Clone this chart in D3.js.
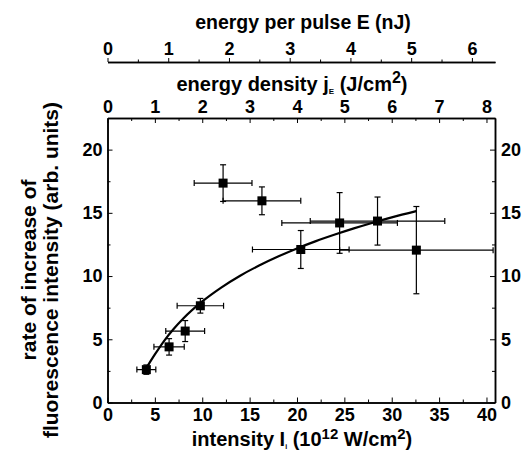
<!DOCTYPE html>
<html>
<head>
<meta charset="utf-8">
<script src="https://cdn.jsdelivr.net/npm/d3@7"></script>
<style>
  body { margin: 0; background: #fff; }
  text { font-family: "Liberation Sans", Arial, sans-serif; font-weight: bold; fill: #000; }
  .axis path, .axis line { stroke: #000; }
</style>
</head>
<body>
<div id="chart"></div>
<script>
// measured points (intensity in 10^12 W/cm^2, rate in arb. units)
const intensity = [4.1, 6.5, 8.2, 9.8, 12.2, 16.3, 20.4, 24.5, 28.5, 32.6];
const rate = [2.6, 4.4, 5.65, 7.65, 17.35, 15.95, 12.1, 14.2, 14.35, 12.05];
const xErr = [1.0, 1.6, 2.05, 2.45, 3.05, 4.1, 5.1, 6.1, 7.1, 8.1];
const yErr = [0.37, 0.65, 0.83, 0.58, 1.45, 1.1, 1.5, 2.4, 1.9, 3.45];

// fitted curve
const fitX = [4.2, 5, 6, 7, 8, 10, 12, 14, 16, 18, 20, 22, 24, 26, 28, 30, 32.6];
const fitY = [2.85, 3.8, 4.9, 5.83, 6.64, 7.99, 9.09, 10.03, 10.83, 11.54, 12.18, 12.76, 13.28, 13.77, 14.22, 14.64, 15.14];

const xTicks = [0, 5, 10, 15, 20, 25, 30, 35, 40];
const yTicks = [0, 5, 10, 15, 20];
const densityTicks = [0, 1, 2, 3, 4, 5, 6, 7, 8];
const energyTicks = [0, 1, 2, 3, 4, 5, 6];

const W = 525, H = 456;
const margin = { left: 107.5, top: 118, right: 30, bottom: 53.5 };
const width = W - margin.left - margin.right;
const height = H - margin.top - margin.bottom;

const xMax = 40.9;
const x = d3.scaleLinear().domain([0, xMax]).range([0, width]);
const y = d3.scaleLinear().domain([0, 22.5]).range([height, 0]);
const xDensity = d3.scaleLinear().domain([0, xMax / 5]).range([0, width]);
const xEnergy = d3.scaleLinear().domain([0, xMax / 5 * 0.78]).range([0, width]);

const svg = d3.select("#chart")
  .append("svg")
  .attr("width", W)
  .attr("height", H);

const g = svg.append("g")
  .attr("transform", `translate(${margin.left},${margin.top})`);

function styleAxis(sel, size) {
  sel.attr("class", "axis");
  sel.select(".domain").attr("stroke-width", 1.5);
  sel.selectAll(".tick line").attr("stroke-width", 1);
  sel.selectAll("text").style("font-size", size + "px").attr("font-family", null);
}

const minorX = d3.range(2.5, 40, 5);
const minorY = d3.range(2.5, 22, 5);
const fmt = d3.format("d");

// frame axes, ticks pointing inward
g.append("g")
  .attr("transform", `translate(0,${height})`)
  .call(d3.axisBottom(x).tickValues(minorX).tickSize(-3).tickSizeOuter(0).tickFormat(""))
  .call(s => styleAxis(s, 18));
g.append("g")
  .attr("transform", `translate(0,${height})`)
  .call(d3.axisBottom(x).tickValues(xTicks).tickSize(-5).tickSizeOuter(0).tickPadding(6))
  .call(s => styleAxis(s, 18));

g.append("g")
  .call(d3.axisLeft(y).tickValues(minorY).tickSize(-3).tickSizeOuter(0).tickFormat(""))
  .call(s => styleAxis(s, 18));
g.append("g")
  .call(d3.axisLeft(y).tickValues(yTicks).tickSize(-5).tickSizeOuter(0).tickPadding(5))
  .call(s => styleAxis(s, 18));

g.append("g")
  .attr("transform", `translate(${width},0)`)
  .call(d3.axisRight(y).tickValues(minorY).tickSize(-3).tickSizeOuter(0).tickFormat(""))
  .call(s => styleAxis(s, 18));
g.append("g")
  .attr("transform", `translate(${width},0)`)
  .call(d3.axisRight(y).tickValues(yTicks).tickSize(-5).tickSizeOuter(0).tickPadding(6))
  .call(s => styleAxis(s, 18));

// top frame: energy density
g.append("g")
  .call(d3.axisTop(xDensity).tickValues(d3.range(0.5, 8.2, 1)).tickSize(-3).tickSizeOuter(0).tickFormat(""))
  .call(s => styleAxis(s, 18));
g.append("g")
  .call(d3.axisTop(xDensity).tickValues(densityTicks).tickSize(-5).tickSizeOuter(0).tickPadding(5).tickFormat(fmt))
  .call(s => styleAxis(s, 18));

// detached axis: energy per pulse
const eY = 62 - margin.top;
g.append("g")
  .attr("transform", `translate(0,${eY})`)
  .call(d3.axisTop(xEnergy).tickValues(d3.range(0.5, 6.4, 1)).tickSize(2.5).tickSizeOuter(0).tickFormat(""))
  .call(s => styleAxis(s, 18));
g.append("g")
  .attr("transform", `translate(0,${eY})`)
  .call(d3.axisTop(xEnergy).tickValues(energyTicks).tickSize(4).tickSizeOuter(0).tickPadding(3).tickFormat(fmt))
  .call(s => styleAxis(s, 18));

// fit curve
const line = d3.line().x(d => x(d[0])).y(d => y(d[1])).curve(d3.curveMonotoneX);
g.append("path")
  .datum(d3.zip(fitX, fitY))
  .attr("fill", "none")
  .attr("stroke", "#000")
  .attr("stroke-width", 2.2)
  .attr("d", line);

// error bars
const pts = intensity.map((v, i) => ({ x: v, y: rate[i], dx: xErr[i], dy: yErr[i] }));
const cap = 3;
const eb = g.append("g").attr("stroke", "#000").attr("stroke-width", 1.2);
pts.forEach(d => {
  const x0 = x(d.x - d.dx), x1 = Math.min(x(d.x + d.dx), width), yc = y(d.y);
  const y0 = y(d.y - d.dy), y1 = y(d.y + d.dy), xc = x(d.x);
  eb.append("line").attr("x1", x0).attr("x2", x1).attr("y1", yc).attr("y2", yc);
  eb.append("line").attr("x1", x0).attr("x2", x0).attr("y1", yc - cap).attr("y2", yc + cap);
  eb.append("line").attr("x1", x1).attr("x2", x1).attr("y1", yc - cap).attr("y2", yc + cap);
  eb.append("line").attr("x1", xc).attr("x2", xc).attr("y1", y0).attr("y2", y1);
  eb.append("line").attr("x1", xc - cap).attr("x2", xc + cap).attr("y1", y0).attr("y2", y0);
  eb.append("line").attr("x1", xc - cap).attr("x2", xc + cap).attr("y1", y1).attr("y2", y1);
});

const sq = 9;
g.append("g")
  .selectAll("rect")
  .data(pts)
  .enter()
  .append("rect")
  .attr("x", d => x(d.x) - sq / 2)
  .attr("y", d => y(d.y) - sq / 2)
  .attr("width", sq)
  .attr("height", sq)
  .attr("fill", "#000");

// titles
const xt = svg.append("text")
  .attr("x", 302)
  .attr("y", 446)
  .attr("text-anchor", "middle")
  .style("font-size", "20px");
xt.append("tspan").text("intensity I");
xt.append("tspan").attr("dy", 3).style("font-size", "7px").text("i");
xt.append("tspan").attr("dy", -3).text(" (10");
xt.append("tspan").attr("dy", -7).style("font-size", "15px").text("12");
xt.append("tspan").attr("dy", 7).text(" W/cm");
xt.append("tspan").attr("dy", -7).style("font-size", "15px").text("2");
xt.append("tspan").attr("dy", 7).text(")");

const dt = svg.append("text")
  .attr("x", 292)
  .attr("y", 91)
  .attr("text-anchor", "middle")
  .style("font-size", "20px");
dt.append("tspan").text("energy density j");
dt.append("tspan").attr("dy", 3).style("font-size", "8px").text("E");
dt.append("tspan").attr("dy", -3).text(" (J/cm");
dt.append("tspan").attr("dy", -8).style("font-size", "16px").text("2");
dt.append("tspan").attr("dy", 8).text(")");

svg.append("text")
  .attr("x", 303)
  .attr("y", 29)
  .attr("text-anchor", "middle")
  .style("font-size", "19.5px")
  .text("energy per pulse E (nJ)");

const yl = svg.append("g").attr("transform", "translate(36,270) rotate(-90)");
yl.append("text").attr("text-anchor", "middle").style("font-size", "21px").text("rate of increase of");
yl.append("text").attr("text-anchor", "middle").attr("y", 22).style("font-size", "21px").text("fluorescence intensity (arb. units)");
</script>
</body>
</html>
